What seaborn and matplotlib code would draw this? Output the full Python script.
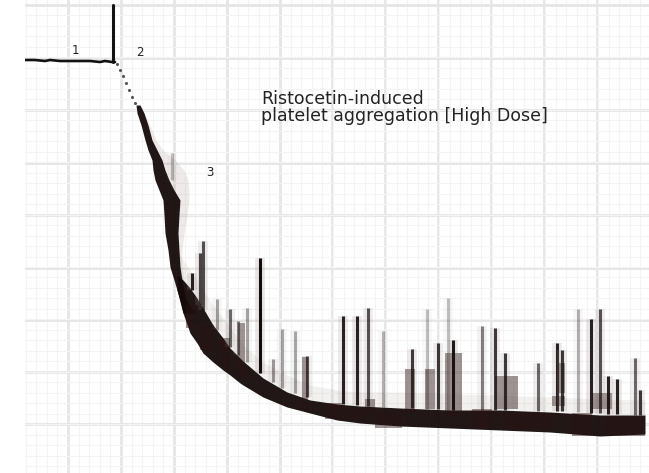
import numpy as np
import matplotlib
matplotlib.use("Agg")
import matplotlib.pyplot as plt
import seaborn as sns
import pandas as pd

# ---- data (chart units) ----
baseline_t = [25, 35, 45, 50, 60, 75, 90, 100, 105, 112, 115]
baseline_y = [60, 60, 61, 60, 61, 61, 61, 62, 61, 62, 62]

marker_t = [113, 113]
marker_y = [5, 62]

drop_t = [117, 120, 123, 126, 129, 132, 135]
drop_y = [64, 70, 76, 83, 90, 97, 103]

# steep part of the trace (indexed by signal level)
steep_y = [105, 113, 125, 140, 150, 160, 170, 180, 190, 200, 215, 233, 250, 267, 280, 290, 300, 313]
steep_left = [136, 137, 141, 145, 148, 152, 153, 155, 159, 163, 164, 165, 168, 170, 174, 177, 180, 183]
steep_right = [140, 144, 148, 152, 157, 162, 165, 169, 174, 180, 179, 178, 179, 180, 182, 184, 186, 195]
steep_haze = [140, 144, 150, 156, 163, 175, 184, 188, 189, 189, 187, 184, 182, 182, 184, 187, 190, 198]

# curved / plateau part of the trace (indexed by time)
curve_t = [177, 183, 190, 197, 203, 213, 223, 230, 240, 243, 263, 287, 310, 337,
           360, 400, 450, 500, 550, 600, 645]
curve_lower = [290, 313, 333, 343, 353, 362, 370, 375, 383, 385, 397, 407, 413, 420,
               423, 426, 428, 430, 432, 436, 434]
curve_upper = [275, 280, 288, 298, 308, 325, 338, 348, 358, 361, 378, 392, 400, 404,
               406, 408, 410, 410, 412, 415, 415]
curve_haze = [250, 260, 270, 280, 290, 305, 318, 328, 340, 345, 362, 375, 385, 390,
              392, 392, 394, 395, 397, 399, 400]

# dense dark patches on top of the trace
blob_t = [190, 207, 225, 241, 305, 333, 355, 370, 388, 410, 430, 453, 482, 506,
          528, 558, 561, 582, 602, 625]
blob_w = [8, 14, 9, 7, 6, 17, 20, 10, 27, 10, 10, 17, 20, 23, 50, 13, 7, 20, 20, 40]
blob_top = [305, 325, 338, 323, 357, 403, 409, 399, 413, 369, 369, 353, 409, 376,
            413, 396, 363, 413, 393, 416]
blob_bottom = [328, 350, 366, 378, 410, 419, 421, 413, 428, 413, 409, 416, 429, 409,
               429, 406, 393, 436, 409, 436]

# noise spikes above the trace
spike_t = [172, 192, 200, 203, 217, 230, 238, 247, 260, 273, 282, 295, 307,
           343, 357, 368, 383, 412, 427, 438, 448, 453, 482, 495, 505, 538,
           557, 562, 578, 591, 600, 608, 617, 635, 640]
spike_top = [153, 273, 253, 241, 299, 309, 321, 308, 258, 359, 329, 331, 356,
             316, 316, 308, 331, 349, 309, 343, 298, 340, 326, 328, 353, 363,
             343, 350, 309, 319, 309, 376, 379, 358, 390]
spike_base = [180, 290, 305, 310, 330, 347, 355, 362, 373, 382, 388, 393, 397,
              404, 405, 406, 407, 408, 409, 409, 410, 410, 410, 410, 410, 411,
              411, 411, 412, 413, 413, 414, 414, 415, 415]
spike_tone = [0.25, 0.9, 0.8, 0.7, 0.35, 0.6, 0.5, 0.35, 1.0, 0.4, 0.35, 0.35, 0.7,
              0.9, 0.9, 0.7, 0.3, 0.8, 0.25, 0.8, 0.25, 0.95, 0.5, 0.8, 0.8, 0.6,
              0.9, 0.8, 0.3, 0.9, 0.7, 0.9, 0.9, 0.6, 0.8]

grid_major_x = [68, 121, 174, 227, 280, 332, 385, 438, 491, 544, 597]
grid_major_y = [5, 58, 110, 163, 215, 268, 320, 372, 424]

labels = [("1", 75, 50), ("2", 140, 53), ("3", 210, 172)]
title_lines = ["Ristocetin-induced", "platelet aggregation [High Dose]"]

# ---- figure ----
sns.set_theme(style="white")
plt.rcParams['font.family'] = ['DejaVu Sans']
fig = plt.figure(figsize=(6.49, 4.73), dpi=100)
fig.patch.set_facecolor("white")
ax = fig.add_axes([25 / 649, 0, 1 - 25 / 649, 1])
ax.set_facecolor("white")

TRACE = "#150a0a"

# baseline and addition marker
sns.lineplot(x=baseline_t, y=baseline_y, ax=ax, color="#111111", lw=1.9,
             sort=False, estimator=None)
sns.lineplot(x=marker_t, y=marker_y, ax=ax, color="#111111", lw=2.2,
             sort=False, estimator=None)
sns.scatterplot(x=drop_t, y=drop_y, ax=ax, color="#555555", s=5, linewidth=0)

# haze
ax.fill_betweenx(steep_y, steep_right, steep_haze, color="#8a7070", alpha=0.14, lw=0)
ax.fill_between(curve_t, curve_haze, curve_upper, color="#8a7070", alpha=0.10, lw=0)

# trace band
ax.fill_betweenx(steep_y, steep_left, steep_right, color=TRACE, alpha=0.95, lw=0)
ax.fill_between(curve_t, curve_upper, curve_lower, color=TRACE, alpha=0.95, lw=0)

# dark patches
ax.bar(blob_t, np.subtract(blob_bottom, blob_top), bottom=blob_top, width=blob_w,
       color="#2a1212", alpha=0.45, lw=0)

# spikes
for t, top, base, tone in zip(spike_t, spike_top, spike_base, spike_tone):
    ax.vlines(t, top, base, color="#9a9090", alpha=0.22 * tone, lw=7)
    ax.vlines(t, top, base, color="#140b0b", alpha=tone, lw=2.2)

# text
for txt, x, y in labels:
    ax.text(x, y, txt, fontsize=8.5, color="#222222", ha="center", va="center")
ax.text(261, 104, title_lines[0], fontsize=12.5, color="#222222", va="baseline")
ax.text(261, 121, title_lines[1], fontsize=12.5, color="#222222", va="baseline")

# grid ticks first, then limits (set_xticks can widen the view)
ax.set_xticks(grid_major_x)
ax.set_yticks(grid_major_y)
minor_x = np.arange(25.6, 649, 53 / 5)
minor_y = np.arange(5, 473, 52.4 / 5)
ax.set_xticks(minor_x, minor=True)
ax.set_yticks(minor_y, minor=True)
ax.set_xlim(25, 649)
ax.set_ylim(473, 0)
ax.grid(which="major", color="#e6e6e6", lw=2.0)
ax.grid(which="minor", color="#f4f4f4", lw=0.8)
ax.tick_params(which="both", length=0, labelbottom=False, labelleft=False)
ax.set_xlabel("")
ax.set_ylabel("")
for s in ax.spines.values():
    s.set_visible(False)
ax.set_axisbelow(True)

fig.savefig("out.png", dpi=100, facecolor="white")
